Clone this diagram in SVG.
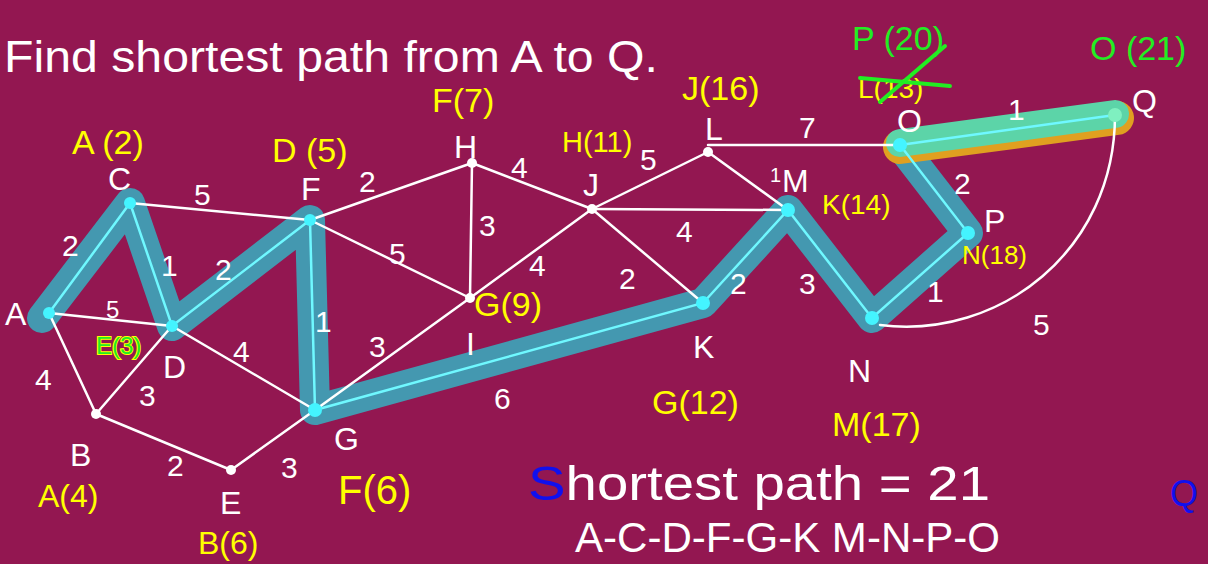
<svg xmlns="http://www.w3.org/2000/svg" width="1208" height="564" viewBox="0 0 1208 564">
<style>
.e{stroke:#ffffff;stroke-width:2.5;fill:none;stroke-linecap:round}
.hl{stroke:#3f9fb5;stroke-width:30;fill:none;stroke-linecap:round;stroke-linejoin:round;opacity:0.95}
.hi{stroke:#6ff8ff;stroke-width:2.5;fill:none}
.t{font-family:"Liberation Sans",Arial,sans-serif;fill:#ffffff}
.n{font-size:32px}
.el{font-size:30px}
.y{fill:#ffff00;font-size:34px}
.g{fill:#22ee22;font-size:34px}
.dot{fill:#ffffff}
.cdot{fill:#44f4ff}
</style>
<rect width="1208" height="564" fill="#931751"/>
<g id="highlight">
<polyline class="hl" points="42,318 130,203 172,326 310,220 315,410 703,303 788,210 872,318 968,233 900,145"/>
<line x1="900" y1="147" x2="1117" y2="118" stroke="#e0a020" stroke-width="34" stroke-linecap="round"/>
<line x1="900" y1="143" x2="1115" y2="114" stroke="#5cd4a8" stroke-width="28" stroke-linecap="round"/>
</g>
<g id="connectors">
<line class="e" x1="49" y1="313" x2="172" y2="326"/>
<line class="e" x1="49" y1="313" x2="96" y2="414"/>
<line class="e" x1="130" y1="203" x2="310" y2="220"/>
<line class="e" x1="96" y1="414" x2="172" y2="326"/>
<line class="e" x1="172" y1="326" x2="315" y2="410"/>
<line class="e" x1="96" y1="414" x2="231" y2="470"/>
<line class="e" x1="231" y1="470" x2="315" y2="410"/>
<line class="e" x1="310" y1="220" x2="472" y2="163"/>
<line class="e" x1="310" y1="220" x2="470" y2="298"/>
<line class="e" x1="472" y1="163" x2="470" y2="298"/>
<line class="e" x1="472" y1="163" x2="592" y2="209"/>
<line class="e" x1="315" y1="410" x2="470" y2="298"/>
<line class="e" x1="470" y1="298" x2="592" y2="209"/>
<line class="e" x1="592" y1="209" x2="703" y2="303"/>
<line class="e" x1="592" y1="209" x2="708" y2="152"/>
<line class="e" x1="592" y1="209" x2="788" y2="210"/>
<line class="e" x1="708" y1="152" x2="788" y2="210"/>
<line class="e" x1="708" y1="145" x2="900" y2="145"/>
<path class="e" d="M1115,115 C1115,250 1000,340 880,325"/>
<polyline class="hi" points="49,313 130,203 172,326 310,220 315,410 703,303 788,210 872,318 968,233 900,145 1115,115"/>
</g>
<g id="node-A"><circle class="cdot" cx="49" cy="313" r="6"/><text class="t n" x="5" y="325">A</text></g>
<g id="node-B"><circle class="dot" cx="96" cy="414" r="5"/><text class="t n" x="70" y="466">B</text></g>
<g id="node-C"><circle class="cdot" cx="130" cy="203" r="6"/><text class="t n" x="108" y="190">C</text></g>
<g id="node-D"><circle class="cdot" cx="172" cy="326" r="6"/><text class="t n" x="163" y="378">D</text></g>
<g id="node-E"><circle class="dot" cx="231" cy="470" r="5"/><text class="t n" x="220" y="514">E</text></g>
<g id="node-F"><circle class="cdot" cx="310" cy="220" r="6"/><text class="t n" x="301" y="200">F</text></g>
<g id="node-G"><circle class="cdot" cx="315" cy="410" r="7"/><text class="t n" x="334" y="450">G</text></g>
<g id="node-H"><circle class="dot" cx="472" cy="163" r="5"/><text class="t n" x="454" y="158">H</text></g>
<g id="node-I"><circle class="dot" cx="470" cy="298" r="5"/><text class="t n" x="466" y="355">I</text></g>
<g id="node-J"><circle class="dot" cx="592" cy="209" r="5"/><text class="t n" x="583" y="196">J</text></g>
<g id="node-K"><circle class="cdot" cx="703" cy="303" r="7"/><text class="t n" x="693" y="358">K</text></g>
<g id="node-L"><circle class="dot" cx="708" cy="152" r="5"/><text class="t n" x="705" y="140">L</text></g>
<g id="node-M"><circle class="cdot" cx="788" cy="210" r="7"/><text class="t n" x="782" y="192">M</text></g>
<g id="node-N"><circle class="cdot" cx="872" cy="318" r="7"/><text class="t n" x="848" y="382">N</text></g>
<g id="node-O"><circle class="cdot" cx="900" cy="145" r="7"/><text class="t n" x="897" y="132">O</text></g>
<g id="node-P"><circle class="cdot" cx="968" cy="233" r="7"/><text class="t n" x="984" y="232">P</text></g>
<g id="node-Q"><circle fill="#7ff0c0" cx="1115" cy="115" r="7"/><text class="t n" x="1132" y="112">Q</text></g>
<g id="edge-labels" class="t el">
<text x="62" y="256">2</text>
<text x="194" y="205">5</text>
<text x="161" y="276">1</text>
<text x="215" y="280">2</text>
<text x="106" y="318" style="font-size:24px">5</text>
<text x="35" y="390">4</text>
<text x="139" y="406">3</text>
<text x="233" y="362">4</text>
<text x="315" y="332">1</text>
<text x="389" y="264">5</text>
<text x="359" y="192">2</text>
<text x="479" y="236">3</text>
<text x="511" y="178">4</text>
<text x="640" y="170">5</text>
<text x="369" y="357">3</text>
<text x="529" y="276">4</text>
<text x="619" y="289">2</text>
<text x="676" y="242">4</text>
<text x="494" y="409">6</text>
<text x="730" y="294">2</text>
<text x="770" y="182" style="font-size:20px">1</text>
<text x="799" y="138">7</text>
<text x="799" y="294">3</text>
<text x="954" y="194">2</text>
<text x="927" y="302">1</text>
<text x="1033" y="335">5</text>
<text x="1008" y="120">1</text>
<text x="167" y="476">2</text>
<text x="281" y="478">3</text>
</g>
<g id="annotations" class="t">
<text class="y" x="72" y="154">A (2)</text>
<text class="y" x="272" y="162">D (5)</text>
<text class="y" x="432" y="112">F(7)</text>
<text class="y" x="562" y="152" style="font-size:29px">H(11)</text>
<text class="y" x="682" y="100">J(16)</text>
<text class="y" x="822" y="214" style="font-size:28px">K(14)</text>
<text class="y" x="962" y="264" style="font-size:26px">N(18)</text>
<text class="y" x="474" y="316">G(9)</text>
<text class="y" x="652" y="414">G(12)</text>
<text class="y" x="832" y="436">M(17)</text>
<text class="y" x="38" y="507" style="font-size:32px">A(4)</text>
<text class="y" x="198" y="554" style="font-size:32px">B(6)</text>
<text class="y" x="338" y="504" style="font-size:40px">F(6)</text>
<text class="g" x="96" y="354" style="font-size:24px;stroke:#ffff00;stroke-width:2;paint-order:stroke">E(3)</text>
<text class="y" x="858" y="98" style="font-size:28px">L(13)</text>
<line x1="860" y1="78" x2="950" y2="86" stroke="#22ee22" stroke-width="4" stroke-linecap="round"/>
<line x1="880" y1="102" x2="945" y2="46" stroke="#22ee22" stroke-width="4" stroke-linecap="round"/>
<text class="g" x="852" y="50">P (20)</text>
<text class="g" x="1090" y="60">O (21)</text>
<text x="4" y="72" style="font-size:44px" textLength="654" lengthAdjust="spacingAndGlyphs">Find shortest path from A to Q.</text>
<text x="528" y="500" style="font-size:48px" textLength="462" lengthAdjust="spacingAndGlyphs"><tspan fill="#1010ee">S</tspan>hortest path = 21</text>
<text x="575" y="552" style="font-size:42px" textLength="425" lengthAdjust="spacingAndGlyphs">A-C-D-F-G-K M-N-P-O</text>
<text x="1170" y="506" style="font-size:36px;fill:#1010ee">Q</text>
</g>
</svg>
